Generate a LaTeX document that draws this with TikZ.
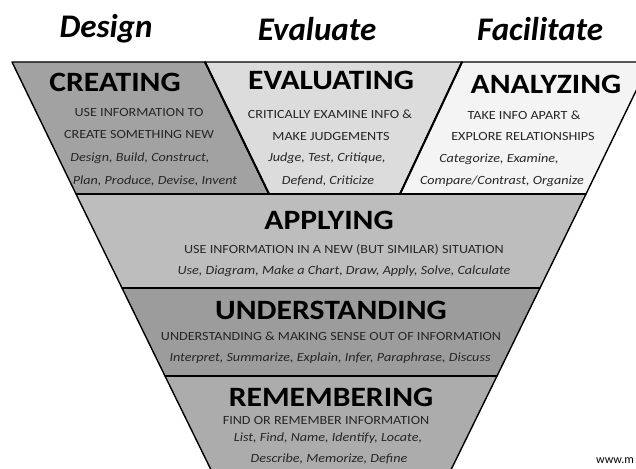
\documentclass[tikz,border=0pt]{standalone}
\usepackage{fontspec}
\setmainfont{Carlito}
\definecolor{cCreate}{HTML}{A2A2A2}
\definecolor{cEval}{HTML}{DCDCDC}
\definecolor{cAnal}{HTML}{F4F4F4}
\definecolor{cApply}{HTML}{BDBDBD}
\definecolor{cUnder}{HTML}{9C9C9C}
\definecolor{cRemem}{HTML}{ACACAC}
\definecolor{txt}{HTML}{262626}
\newcommand\stretchfont{\addfontfeatures{FakeStretch=1.13}}
\tikzset{
  band/.style={draw=black, line width=1.4pt, line join=round},
  sep/.style={draw=black, line width=2.6pt},
  head/.style={font=\fontsize{28}{30}\selectfont\bfseries\stretchfont, text=black, inner sep=0pt},
  sub/.style={font=\fontsize{12.5}{14}\selectfont\stretchfont, text=txt, inner sep=0pt},
  verbs/.style={font=\fontsize{12.5}{14}\selectfont\itshape\stretchfont, text=txt, inner sep=0pt},
  title/.style={font=\fontsize{33}{36}\selectfont\bfseries\itshape, text=black, inner sep=0pt},
}
\begin{document}
\begin{tikzpicture}[x=1pt,y=-1pt]
\useasboundingbox (0,0) rectangle (636,468);
\clip (0,0) rectangle (636,468);
\fill[white] (0,0) rectangle (636,468);
% bands
\path[band, fill=cCreate] (12,62) -- (205,62) -- (269,194) -- (76,194) -- cycle;
\path[band, fill=cEval] (205,62) -- (462,62) -- (400,194) -- (269,194) -- cycle;
\path[band, fill=cAnal] (462,62) -- (650,62) -- (586,194) -- (400,194) -- cycle;
\path[band, fill=cApply] (76,194) -- (586,194) -- (540,288) -- (122,288) -- cycle;
\path[band, fill=cUnder] (122,288) -- (540,288) -- (497,376) -- (165,376) -- cycle;
\path[band, fill=cRemem] (165,376) -- (497,376) -- (446,480) -- (216,480) -- cycle;
% dividers
\draw[line width=2pt] (205,62) -- (269,194);
\draw[line width=2pt] (462,62) -- (400,194);
\draw[sep] (76,194) -- (586,194);
\draw[sep] (122,288) -- (540,288);
\draw[sep] (165,376) -- (497,376);
% titles
\node[title] (tDesign) at (106,29) {Design};
\node[title] (tEval) at (317,29) {Evaluate};
\node[title] (tFac) at (540,29) {Facilitate};
% creating
\node[head] (hCreate) at (115,82) {CREATING};
\node[sub] (c1) at (139,112) {USE INFORMATION TO};
\node[sub] (c2) at (139,134) {CREATE SOMETHING NEW};
\node[verbs] (c3) at (140,158) {Design, Build, Construct,};
\node[verbs] (c4) at (155,181) {Plan, Produce, Devise, Invent};
% evaluating
\node[head] (hEval) at (331,80) {EVALUATING};
\node[sub] (e1) at (330,114) {CRITICALLY EXAMINE INFO \&};
\node[sub] (e2) at (331,136) {MAKE JUDGEMENTS};
\node[verbs] (e3) at (327,158) {Judge, Test, Critique,};
\node[verbs] (e4) at (328,181) {Defend, Criticize};
% analyzing
\node[head] (hAnal) at (546,84) {ANALYZING};
\node[sub] (a1) at (524,115) {TAKE INFO APART \&};
\node[sub] (a2) at (523,136) {EXPLORE RELATIONSHIPS};
\node[verbs] (a3) at (499,159) {Categorize, Examine,};
\node[verbs] (a4) at (502,181) {Compare/Contrast, Organize};
% applying
\node[head] (hApply) at (329,220) {APPLYING};
\node[sub] (p1) at (344,250) {USE INFORMATION IN A NEW (BUT SIMILAR) SITUATION};
\node[verbs] (p2) at (344,271) {Use, Diagram, Make a Chart, Draw, Apply, Solve, Calculate};
% understanding
\node[head] (hUnder) at (331,310) {UNDERSTANDING};
\node[sub] (u1) at (331,336) {UNDERSTANDING \& MAKING SENSE OUT OF INFORMATION};
\node[verbs] (u2) at (330,358) {Interpret, Summarize, Explain, Infer, Paraphrase, Discuss};
% remembering
\node[head] (hRemem) at (331,397) {REMEMBERING};
\node[sub] (r1) at (326,420) {FIND OR REMEMBER INFORMATION};
\node[verbs] (r2) at (328,438) {List, Find, Name, Identify, Locate,};
\node[verbs] (r3) at (329,459) {Describe, Memorize, Define};
% url
\node[font=\fontsize{12}{14}\selectfont, text=black, inner sep=0pt, anchor=west] (url) at (596,461) {www.m};
\end{tikzpicture}
\end{document}
